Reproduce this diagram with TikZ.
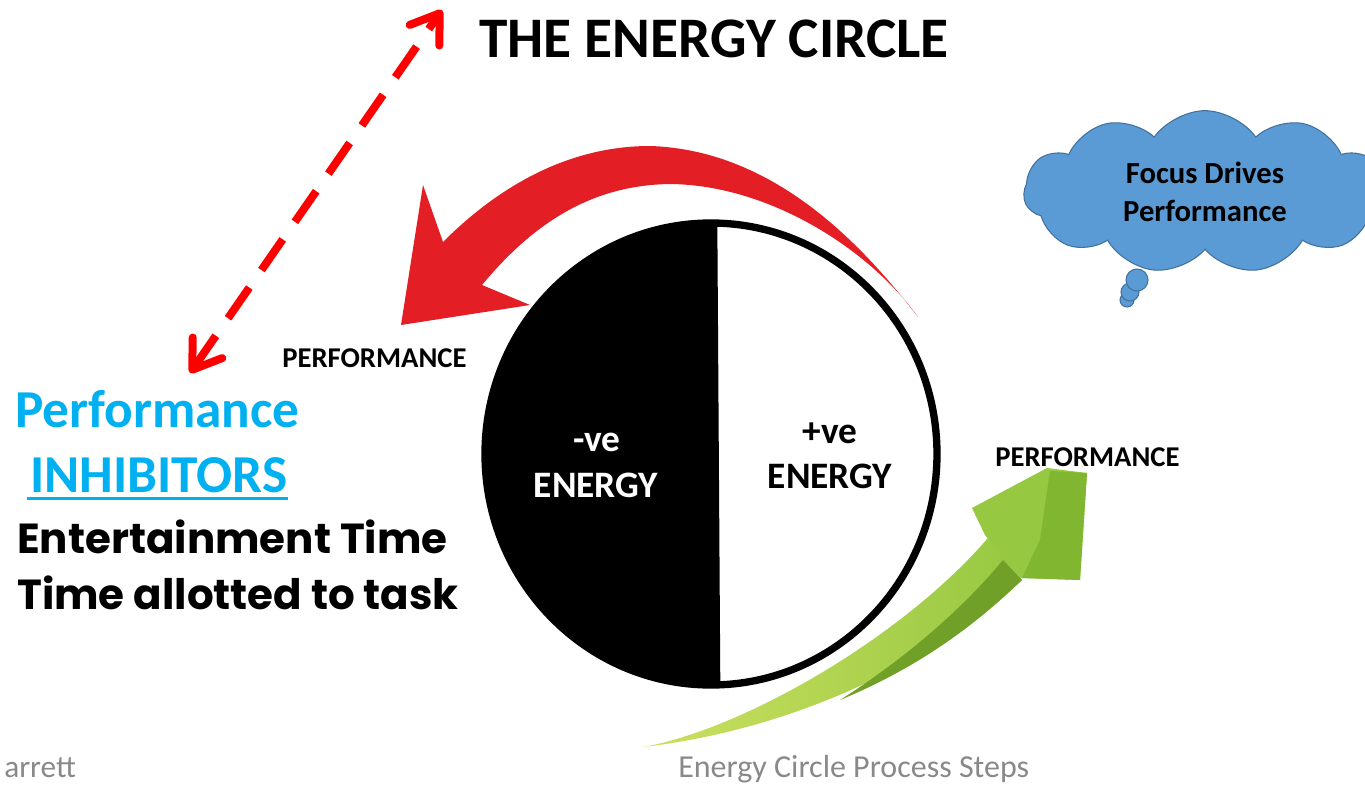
\documentclass[tikz,border=0pt]{standalone}
\usepackage{fontspec}
\setmainfont{Carlito}
\newfontfamily\heavyfont{Poppins}
\usetikzlibrary{arrows.meta,shapes.symbols}

\definecolor{arrowred}{RGB}{227,30,36}
\definecolor{dashred}{RGB}{255,0,0}
\definecolor{skyblue}{RGB}{0,176,240}
\definecolor{cloudblue}{RGB}{91,155,213}
\definecolor{cloudline}{RGB}{65,113,156}
\definecolor{palegreen}{RGB}{204,224,96}
\definecolor{leafgreen}{RGB}{150,200,66}
\definecolor{headgreen}{RGB}{128,182,48}
\definecolor{sidegreen}{RGB}{112,160,40}
\definecolor{footgray}{RGB}{137,137,137}

\begin{document}
\begin{tikzpicture}[x=0.75pt, y=-0.75pt,
    caps/.style={inner sep=0pt, anchor=base west, font=\bfseries\fontsize{21.5}{25}\selectfont},
    energy/.style={inner sep=0pt, anchor=base, font=\bfseries\fontsize{28}{33}\selectfont},
    inhib/.style={inner sep=0pt, anchor=base west, font=\heavyfont\bfseries\fontsize{31.5}{38}\selectfont},
    foot/.style={inner sep=0pt, anchor=base west, text=footgray}]
    \useasboundingbox (0,0) rectangle (1365,786);
    \clip (0,0) rectangle (1365,786);

    \node[inner sep=0pt, anchor=base, font=\bfseries\fontsize{43}{50}\selectfont] (title) at (714,57) {THE ENERGY CIRCLE};

    % Circle, black on the left half
    \begin{scope}
        \clip (450,200) -- (716,200) -- (719,720) -- (450,720) -- cycle;
        \fill (711,454) ellipse [x radius=226, y radius=231];
    \end{scope}
    \draw[line width=5.5pt] (711,454) ellipse [x radius=226, y radius=231];
    \draw[line width=2pt] (716,224) -- (719,686);

    \node[energy, text=white] (negsign) at (597,451) {-ve};
    \node[energy, text=white] (negword) at (596,497) {ENERGY};
    \node[energy] (possign) at (830,443) {+ve};
    \node[energy] (posword) at (830,488) {ENERGY};

    % Red arrow over the top of the circle
    \fill[arrowred] (918,317) .. controls (870,255) and (780,150) .. (650,146)
        .. controls (560,146) and (490,195) .. (443,242)
        -- (423,185) -- (401,325) -- (530,305) -- (482,285)
        .. controls (540,215) and (600,185) .. (670,184)
        .. controls (770,185) and (870,250) .. (918,317) -- cycle;

    % Green arrow rising on the right
    \shade[left color=palegreen, right color=leafgreen] (643,747)
        .. controls (740,730) and (900,640) .. (988,538) -- (1022,580)
        .. controls (930,665) and (790,730) .. (643,747) -- cycle;
    \fill[sidegreen] (1003,560) -- (1022,580) .. controls (960,640) and (900,675) .. (840,700)
        .. controls (900,662) and (960,612) .. cycle;
    \fill[leafgreen] (985,535) -- (972,508) -- (1047,468) -- (1087,473) -- (1080,580) -- (1020,578) -- cycle;
    \fill[headgreen] (1050,471) -- (1087,473) -- (1080,580) -- (1022,578) -- (1040,540) -- cycle;

    \node[caps] (perfleft) at (282,367) {PERFORMANCE};
    \node[caps] (perfright) at (995,466) {PERFORMANCE};

    % Dashed link up to the title
    \coordinate (dashlow) at (190,373);
    \coordinate (dashhigh) at (442,10);
    \draw[dashred, line width=6pt, dash pattern=on 28pt off 16pt,
        {Straight Barb[length=20pt,width=27pt,round]}-{Straight Barb[length=20pt,width=27pt,round]}] (dashlow) -- (dashhigh);

    % Thought cloud
    \draw[cloudline, fill=cloudblue, line width=0.8pt] (1127,300) circle (7);
    \draw[cloudline, fill=cloudblue, line width=0.8pt] (1130,292) circle (9);
    \draw[cloudline, fill=cloudblue, line width=0.8pt] (1137,280) circle (11);
    \node[cloud, cloud puffs=11, cloud puff arc=110, aspect=2.2, draw=cloudline, fill=cloudblue, line width=0.8pt,
        minimum width=272pt, minimum height=122pt, align=center,
        font=\bfseries\fontsize{23}{28.5}\selectfont] (focus) at (1205,192) {Focus Drives\\Performance};

    % Inhibitors on the left
    \node[inner sep=0pt, anchor=base west, text=skyblue, font=\bfseries\fontsize{40}{46}\selectfont] (perfword) at (15,427) {Performance};
    \node[inner sep=0pt, anchor=base west, text=skyblue, font=\bfseries\fontsize{40}{46}\selectfont] (inhibitors) at (30,492) {INHIBITORS};
    \draw[skyblue, line width=2.2pt] ([xshift=-2pt,yshift=-5pt]inhibitors.base west) -- ([yshift=-5pt]inhibitors.base east);
    \node[inhib] (entertain) at (17,553) {Entertainment Time};
    \node[inhib] (allotted) at (17,609) {Time allotted to task};

    \node[foot, font=\fontsize{23.5}{28}\selectfont] (author) at (4,777) {arrett};
    \node[foot, font=\fontsize{24}{28}\selectfont] (steps) at (678,777) {Energy Circle Process Steps};
\end{tikzpicture}
\end{document}
